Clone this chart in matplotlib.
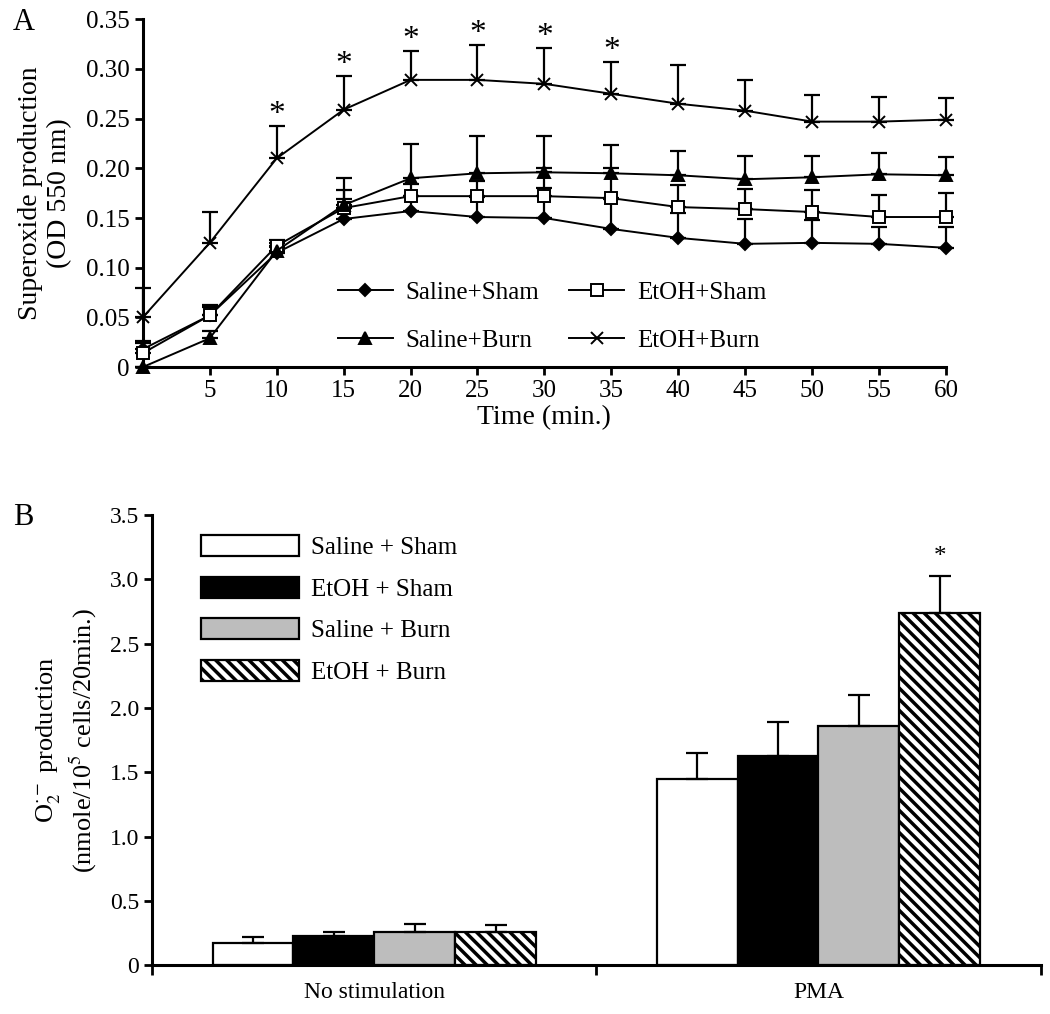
import numpy as np
import matplotlib
matplotlib.use('Agg')
import matplotlib.pyplot as plt

plt.rcParams['font.family'] = ['Liberation Serif', 'DejaVu Serif']
plt.rcParams['mathtext.fontset'] = 'stix'
plt.rcParams['hatch.linewidth'] = 2.5

# Panel A data: time course (mean and SEM)
time = [0, 5, 10, 15, 20, 25, 30, 35, 40, 45, 50, 55, 60]
saline_sham = [0.018, 0.052, 0.115, 0.149, 0.157, 0.151, 0.150, 0.139, 0.130, 0.124, 0.125, 0.124, 0.120]
saline_sham_sem = [0.006, 0.008, 0.006, 0.020, 0.015, 0.020, 0.030, 0.030, 0.025, 0.025, 0.023, 0.017, 0.021]
etoh_sham = [0.014, 0.052, 0.122, 0.160, 0.172, 0.172, 0.172, 0.170, 0.161, 0.159, 0.156, 0.151, 0.151]
etoh_sham_sem = [0.012, 0.010, 0.006, 0.018, 0.012, 0.015, 0.028, 0.030, 0.022, 0.020, 0.022, 0.022, 0.024]
saline_burn = [0.0, 0.029, 0.117, 0.163, 0.190, 0.195, 0.196, 0.195, 0.193, 0.189, 0.191, 0.194, 0.193]
saline_burn_sem = [0.0, 0.007, 0.008, 0.027, 0.034, 0.038, 0.037, 0.028, 0.024, 0.023, 0.021, 0.021, 0.018]
etoh_burn = [0.050, 0.125, 0.210, 0.259, 0.289, 0.289, 0.285, 0.275, 0.265, 0.258, 0.247, 0.247, 0.249]
etoh_burn_sem = [0.030, 0.031, 0.033, 0.034, 0.029, 0.035, 0.036, 0.032, 0.039, 0.031, 0.027, 0.025, 0.022]
star_times = [10, 15, 20, 25, 30, 35]

# Panel B data
groups = ['No stimulation', 'PMA']
bar_labels = ['Saline + Sham', 'EtOH + Sham', 'Saline + Burn', 'EtOH + Burn']
bar_means = [[0.17, 1.45], [0.225, 1.63], [0.26, 1.86], [0.26, 2.74]]
bar_sems = [[0.05, 0.20], [0.035, 0.26], [0.06, 0.24], [0.05, 0.29]]

fig = plt.figure(figsize=(10.5, 10.14), dpi=100)

# ---- Panel A ----
axA = fig.add_axes([0.136, 0.638, 0.765, 0.343])
series = [
    (saline_sham, saline_sham_sem, 'D', 'black', 6, 'Saline+Sham'),
    (etoh_sham, etoh_sham_sem, 's', 'white', 8, 'EtOH+Sham'),
    (saline_burn, saline_burn_sem, '^', 'black', 8, 'Saline+Burn'),
    (etoh_burn, etoh_burn_sem, 'x', 'black', 9, 'EtOH+Burn'),
]
handles = {}
for vals, sem, mk, fc, ms, lab in series:
    vals = np.array(vals)
    sem = np.array(sem)
    axA.errorbar(time, vals, yerr=[np.zeros_like(sem), sem], fmt='none',
                 ecolor='black', elinewidth=1.6, capsize=6, capthick=1.6, clip_on=False)
    line, = axA.plot(time, vals, color='black', lw=1.4, marker=mk, markersize=ms,
                     markerfacecolor=fc, markeredgecolor='black', markeredgewidth=1.4,
                     label=lab, clip_on=False, zorder=3)
    handles[lab] = line

eb = np.array(etoh_burn) + np.array(etoh_burn_sem)
for t in star_times:
    i = time.index(t)
    axA.text(t, eb[i] + 0.011, '*', ha='center', va='center', fontsize=24)

axA.set_xlim(0, 60)
axA.set_ylim(0, 0.35)
axA.set_xticks(range(5, 61, 5))
axA.set_yticks([0, 0.05, 0.10, 0.15, 0.20, 0.25, 0.30, 0.35])
axA.set_yticklabels(['0', '0.05', '0.10', '0.15', '0.20', '0.25', '0.30', '0.35'])
axA.tick_params(labelsize=18, width=2, length=6, direction='out')
for s in ['top', 'right']:
    axA.spines[s].set_visible(False)
for s in ['left', 'bottom']:
    axA.spines[s].set_linewidth(2.2)
axA.set_xlabel('Time (min.)', fontsize=20, labelpad=2)
axA.set_ylabel('Superoxide production\n(OD 550 nm)', fontsize=20, labelpad=10)
order = ['Saline+Sham', 'Saline+Burn', 'EtOH+Sham', 'EtOH+Burn']
axA.legend([handles[k] for k in order], order, ncol=2, frameon=False, fontsize=18,
           loc='upper left', bbox_to_anchor=(0.215, 0.31), handlelength=2.2,
           columnspacing=1.2, labelspacing=1.0, handletextpad=0.5)
fig.text(0.012, 0.978, 'A', fontsize=22, va='center')

# ---- Panel B ----
axB = fig.add_axes([0.145, 0.048, 0.846, 0.444])
width = 0.182
colors = ['white', 'black', '#bdbdbd', 'white']
hatches = [None, None, None, '\\\\\\']
centers = np.array([0.5, 1.5])
for k in range(4):
    x = centers + (k - 1.5) * width
    axB.bar(x, bar_means[k], width=width, color=colors[k], edgecolor='black',
            linewidth=1.6, hatch=hatches[k], label=bar_labels[k], zorder=2)
    axB.errorbar(x, bar_means[k], yerr=[[0, 0], bar_sems[k]], fmt='none',
                 ecolor='black', elinewidth=1.6, capsize=8, capthick=1.6, zorder=3)
axB.text(centers[1] + 1.5 * width, bar_means[3][1] + bar_sems[3][1] + 0.06, '*',
         ha='center', va='bottom', fontsize=18)

axB.set_xlim(0, 2)
axB.set_ylim(0, 3.5)
axB.set_xticks([0, 1, 2])
axB.set_xticklabels([])
axB.set_xticks(centers, minor=True)
axB.set_xticklabels(groups, minor=True)
axB.tick_params(axis='x', which='minor', length=0, labelsize=17, pad=12)
axB.tick_params(axis='x', which='major', width=2, length=7, direction='out')
axB.set_yticks([0, 0.5, 1.0, 1.5, 2.0, 2.5, 3.0, 3.5])
axB.set_yticklabels(['0', '0.5', '1.0', '1.5', '2.0', '2.5', '3.0', '3.5'])
axB.tick_params(axis='y', labelsize=17, width=2, length=6, direction='out')
for s in ['top', 'right']:
    axB.spines[s].set_visible(False)
for s in ['left', 'bottom']:
    axB.spines[s].set_linewidth(2.2)
axB.set_ylabel('O$_2^{\\cdot-}$ production\n(nmole/10$^5$ cells/20min.)', fontsize=19, labelpad=8)
axB.legend(frameon=False, fontsize=18, loc='upper left', bbox_to_anchor=(0.03, 1.005),
           handlelength=3.9, handleheight=0.9, labelspacing=0.7, handletextpad=0.5)
fig.text(0.012, 0.49, 'B', fontsize=22, va='center')

fig.savefig('out.png', dpi=100)
